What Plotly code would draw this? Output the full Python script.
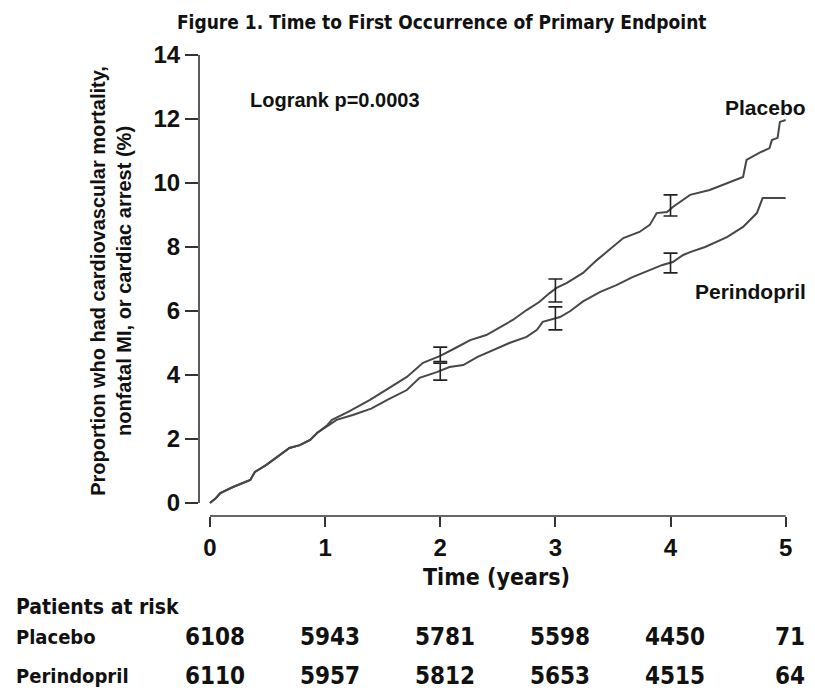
import plotly.graph_objects as go

# ---------------- data ----------------
placebo_t = [0, 0.05, 0.09, 0.2, 0.35, 0.39, 0.49, 0.61, 0.69, 0.78, 0.87, 0.93, 1.02, 1.06,
             1.2, 1.39, 1.56, 1.71, 1.85, 2.0, 2.14, 2.26, 2.4, 2.52, 2.63, 2.75, 2.86, 2.95,
             3.01, 3.1, 3.24, 3.36, 3.47, 3.59, 3.73, 3.82, 3.88, 3.97, 4.02, 4.14, 4.17, 4.34,
             4.49, 4.63, 4.66, 4.77, 4.86, 4.88, 4.93, 4.95, 5.0]
placebo_p = [0, 0.15, 0.31, 0.5, 0.72, 0.97, 1.19, 1.5, 1.72, 1.81, 1.97, 2.19, 2.44, 2.6,
             2.85, 3.22, 3.59, 3.94, 4.38, 4.6, 4.86, 5.09, 5.25, 5.5, 5.72, 6.03, 6.28, 6.56,
             6.72, 6.88, 7.19, 7.59, 7.91, 8.28, 8.47, 8.69, 9.06, 9.09, 9.25, 9.56, 9.63, 9.78,
             10.0, 10.19, 10.72, 10.94, 11.09, 11.34, 11.41, 11.91, 11.97]

perind_t = [0, 0.05, 0.09, 0.2, 0.35, 0.39, 0.49, 0.61, 0.69, 0.78, 0.87, 0.93, 1.02, 1.1,
            1.24, 1.4, 1.54, 1.71, 1.82, 1.97, 2.08, 2.2, 2.32, 2.46, 2.6, 2.75, 2.84, 2.89,
            3.04, 3.13, 3.24, 3.39, 3.53, 3.67, 3.82, 3.93, 4.02, 4.11, 4.17, 4.3, 4.49, 4.63,
            4.75, 4.77, 4.8, 5.0]
perind_p = [0, 0.15, 0.31, 0.5, 0.72, 0.97, 1.19, 1.5, 1.72, 1.81, 1.97, 2.19, 2.4, 2.6,
            2.75, 2.95, 3.22, 3.53, 3.91, 4.09, 4.25, 4.31, 4.56, 4.78, 5.0, 5.19, 5.41, 5.66,
            5.81, 6.0, 6.3, 6.6, 6.81, 7.06, 7.28, 7.44, 7.53, 7.75, 7.84, 8.0, 8.31, 8.63,
            9.06, 9.25, 9.53, 9.53]

ci_t = [2, 3, 4]
placebo_mid = [4.65, 6.66, 9.3]
placebo_lo = [4.42, 6.28, 8.97]
placebo_hi = [4.87, 7.0, 9.63]
perind_mid = [4.12, 5.78, 7.5]
perind_lo = [3.84, 5.41, 7.19]
perind_hi = [4.37, 6.13, 7.81]

risk_times = [0, 1, 2, 3, 4, 5]
risk_placebo = ["6108", "5943", "5781", "5598", "4450", "71"]
risk_perind = ["6110", "5957", "5812", "5653", "4515", "64"]

x_ticks = [0, 1, 2, 3, 4, 5]
y_ticks = [0, 2, 4, 6, 8, 10, 12, 14]

# ---------------- figure ----------------
ARIAL = "Liberation Sans, Arial, sans-serif"
NARROW = "DejaVu Sans Condensed, Liberation Sans Narrow, sans-serif"
LINE = "#474747"
DARK = "#222222"
X_RANGE = [-0.0955, 5.003]


def to_paper_x(t):
    return (t - X_RANGE[0]) / (X_RANGE[1] - X_RANGE[0])


fig = go.Figure()

fig.add_trace(go.Scatter(x=placebo_t, y=placebo_p, mode="lines", line_shape="linear",
                         line=dict(color=LINE, width=2), name="Placebo", showlegend=False))
fig.add_trace(go.Scatter(x=perind_t, y=perind_p, mode="lines", line_shape="linear",
                         line=dict(color=LINE, width=2), name="Perindopril", showlegend=False))

for mid, lo, hi in [(placebo_mid, placebo_lo, placebo_hi), (perind_mid, perind_lo, perind_hi)]:
    fig.add_trace(go.Scatter(
        x=ci_t, y=mid, mode="markers", marker=dict(size=1, color="rgba(0,0,0,0)"),
        error_y=dict(type="data", symmetric=False,
                     array=[h - m for h, m in zip(hi, mid)],
                     arrayminus=[m - l for m, l in zip(mid, lo)],
                     color=DARK, thickness=1.6, width=7),
        showlegend=False, hoverinfo="skip"))

# axis lines (offset style: y line 0..14, x line 0..5)
fig.add_shape(type="line", xref="paper", yref="y", x0=0, x1=0, y0=0, y1=14,
              line=dict(color="#333", width=1.6))
fig.add_shape(type="line", xref="x", yref="paper", x0=0, x1=5, y0=0, y1=0,
              line=dict(color="#333", width=1.6))

ann = []
ann.append(dict(text="<b>Logrank p=0.0003</b>", x=0.33, y=12.6, xref="x", yref="y",
                xanchor="left", yanchor="middle", showarrow=False,
                font=dict(family=ARIAL, size=20, color="#111")))
ann.append(dict(text="<b>Placebo</b>", x=1.0375, y=12.35, xref="paper", yref="y",
                xanchor="right", yanchor="middle", showarrow=False,
                font=dict(family=ARIAL, size=21, color="#111")))
ann.append(dict(text="<b>Perindopril</b>", x=1.0375, y=6.6, xref="paper", yref="y",
                xanchor="right", yanchor="middle", showarrow=False,
                font=dict(family=ARIAL, size=21, color="#111")))
ann.append(dict(text="<b>Proportion who had cardiovascular mortality,<br>nonfatal MI, or cardiac arrest (%)</b>",
                x=-0.150, y=0.51, xref="paper", yref="paper", textangle=-90,
                xanchor="center", yanchor="middle", showarrow=False,
                font=dict(family=ARIAL, size=20, color="#111")))
ann.append(dict(text="<b>Time (years)</b>", x=2.49, y=-0.132, xref="x", yref="paper",
                xanchor="center", yanchor="middle", showarrow=False,
                font=dict(family=NARROW, size=23, color="#111")))
ann.append(dict(text="<b>Patients at risk</b>", x=-0.315, y=-0.197, xref="paper", yref="paper",
                xanchor="left", yanchor="middle", showarrow=False,
                font=dict(family=NARROW, size=21, color="#111")))
ann.append(dict(text="<b>Placebo</b>", x=-0.315, y=-0.262, xref="paper", yref="paper",
                xanchor="left", yanchor="middle", showarrow=False,
                font=dict(family=NARROW, size=20, color="#111")))
ann.append(dict(text="<b>Perindopril</b>", x=-0.315, y=-0.347, xref="paper", yref="paper",
                xanchor="left", yanchor="middle", showarrow=False,
                font=dict(family=NARROW, size=20, color="#111")))
for t, a, b in zip(risk_times, risk_placebo, risk_perind):
    xp = to_paper_x(t + 0.04)
    ann.append(dict(text=a, x=xp, y=-0.262, xref="paper", yref="paper",
                    xanchor="center", yanchor="middle", showarrow=False,
                    font=dict(family=NARROW, size=24, color="#111", weight="bold")))
    ann.append(dict(text=b, x=xp, y=-0.347, xref="paper", yref="paper",
                    xanchor="center", yanchor="middle", showarrow=False,
                    font=dict(family=NARROW, size=24, color="#111", weight="bold")))

fig.update_layout(
    width=815, height=690,
    margin=dict(l=199, r=29, t=55, b=174),
    paper_bgcolor="white", plot_bgcolor="white",
    title=dict(text="<b>Figure 1. Time to First Occurrence of Primary Endpoint</b>",
               x=0.542, y=0.968, xanchor="center", yanchor="middle",
               font=dict(family=NARROW, size=19, color="#111")),
    annotations=ann,
    xaxis=dict(range=X_RANGE, tickvals=x_ticks, showgrid=False, zeroline=False,
               showline=False, ticks="outside", ticklen=10, tickwidth=1.6, tickcolor="#333",
               tickfont=dict(family=ARIAL, size=24, color="#111", weight="bold")),
    yaxis=dict(range=[-0.406, 14], tickvals=y_ticks, showgrid=False, zeroline=False,
               showline=False, ticks="outside", ticklen=13, tickwidth=1.6, tickcolor="#333",
               tickfont=dict(family=ARIAL, size=24, color="#111", weight="bold")),
)

fig.write_html("out.html", config={"displayModeBar": False},
               post_script="document.body.style.margin='0';")
